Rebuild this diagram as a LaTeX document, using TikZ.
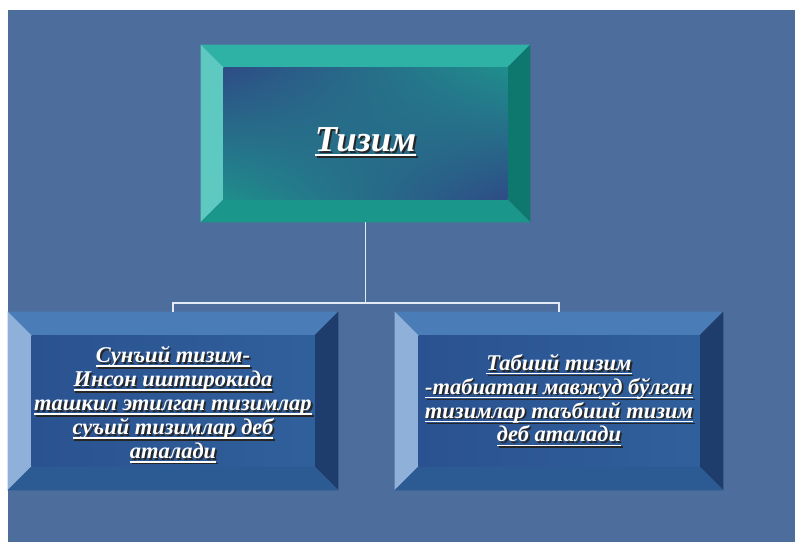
\documentclass[tikz,border=0pt]{standalone}
\usepackage{fontspec}
\setmainfont{Liberation Serif}
\usepackage{tikz}
\usetikzlibrary{calc,backgrounds,shadings}
\definecolor{bg}{HTML}{4D6D9C}
\definecolor{tealT}{HTML}{2FB2A6}
\definecolor{tealL}{HTML}{5DC9C0}
\definecolor{tealR}{HTML}{0F786E}
\definecolor{tealB}{HTML}{1A968A}
\definecolor{tealIn}{HTML}{1F8E8C}
\definecolor{navyIn}{HTML}{2E4C86}
\definecolor{blueT}{HTML}{4A7DB8}
\definecolor{blueL}{HTML}{8FB1D9}
\definecolor{blueR}{HTML}{1E3D6C}
\definecolor{blueB}{HTML}{2C5A93}
\definecolor{blueIn}{HTML}{30609C}
\definecolor{blueInD}{HTML}{2A5290}
\definecolor{wire}{HTML}{E2EAF3}

% underlined box, thicker rule
\newcommand{\ubox}[1]{\setbox0=\hbox{#1}\rlap{\copy0}\rule[-3pt]{\wd0}{1.1pt}}
% text line with underline and drop shadow
\newcommand{\sline}[1]{\rlap{\kern1.3pt\raisebox{-1.3pt}{\color{black!85}\ubox{#1}}}\ubox{#1}}
% node, depth, top, left, right, bottom colours
\newcommand{\bevel}[6]{%
\fill[#3] (#1.north west) -- (#1.north east) -- ($(#1.north east)+(-#2,-#2)$) -- ($(#1.north west)+(#2,-#2)$) -- cycle;
\fill[#4] (#1.north west) -- ($(#1.north west)+(#2,-#2)$) -- ($(#1.south west)+(#2,#2)$) -- (#1.south west) -- cycle;
\fill[#5] (#1.north east) -- ($(#1.north east)+(-#2,-#2)$) -- ($(#1.south east)+(-#2,#2)$) -- (#1.south east) -- cycle;
\fill[#6] (#1.south west) -- ($(#1.south west)+(#2,#2)$) -- ($(#1.south east)+(-#2,#2)$) -- (#1.south east) -- cycle;
}

\tikzset{
  box/.style={rectangle, align=center, text=white, font=\bfseries\itshape\fontsize{16}{17}\selectfont, inner sep=0pt},
  wire/.style={draw=wire, line width=1.4pt}
}

\begin{document}
\begin{tikzpicture}
\useasboundingbox (0,0) rectangle (19.875,13.55);
\node[box, minimum width=8.225cm, minimum height=4.425cm, font=\bfseries\itshape\fontsize{26}{30}\selectfont] (tizim) at (9.1375,10.2125) {\rule{0pt}{30pt}\sline{Тизим}};
\node[box, minimum width=8.25cm, minimum height=4.45cm] (sunyi) at (4.325,3.525)
  {\rule{0pt}{18pt}\sline{Сунъий тизим-}\\ \sline{Инсон иштирокида}\\ \sline{ташкил этилган тизимлар}\\ \sline{суъий тизимлар деб}\\ \sline{аталади}};
\node[box, minimum width=8.2cm, minimum height=4.45cm] (tabiiy) at (13.975,3.525)
  {\sline{Табиий тизим}\\ \sline{-табиатан мавжуд бўлган}\\ \sline{тизимлар таъбиий тизим}\\ \sline{деб аталади}};

\begin{scope}[on background layer]
\fill[bg] (0.2,0) rectangle (19.875,13.3);
\bevel{tizim}{0.575}{tealT}{tealL}{tealR}{tealB}
\shade[upper left=navyIn, upper right=tealIn, lower left=tealIn, lower right=navyIn]
  ($(tizim.north west)+(0.575,-0.575)$) rectangle ($(tizim.south east)+(-0.575,0.575)$);
\bevel{sunyi}{0.6}{blueT}{blueL}{blueR}{blueB}
\shade[left color=blueInD, right color=blueIn]
  ($(sunyi.north west)+(0.6,-0.6)$) rectangle ($(sunyi.south east)+(-0.6,0.6)$);
\bevel{tabiiy}{0.6}{blueT}{blueL}{blueR}{blueB}
\shade[left color=blueInD, right color=blueIn]
  ($(tabiiy.north west)+(0.6,-0.6)$) rectangle ($(tabiiy.south east)+(-0.6,0.6)$);
\end{scope}

\draw[wire] (tizim.south) -- ++(0,-2.025) coordinate (fork);
\draw[wire] (fork) -| (sunyi.north);
\draw[wire] (fork) -| (tabiiy.north);
\end{tikzpicture}
\end{document}
